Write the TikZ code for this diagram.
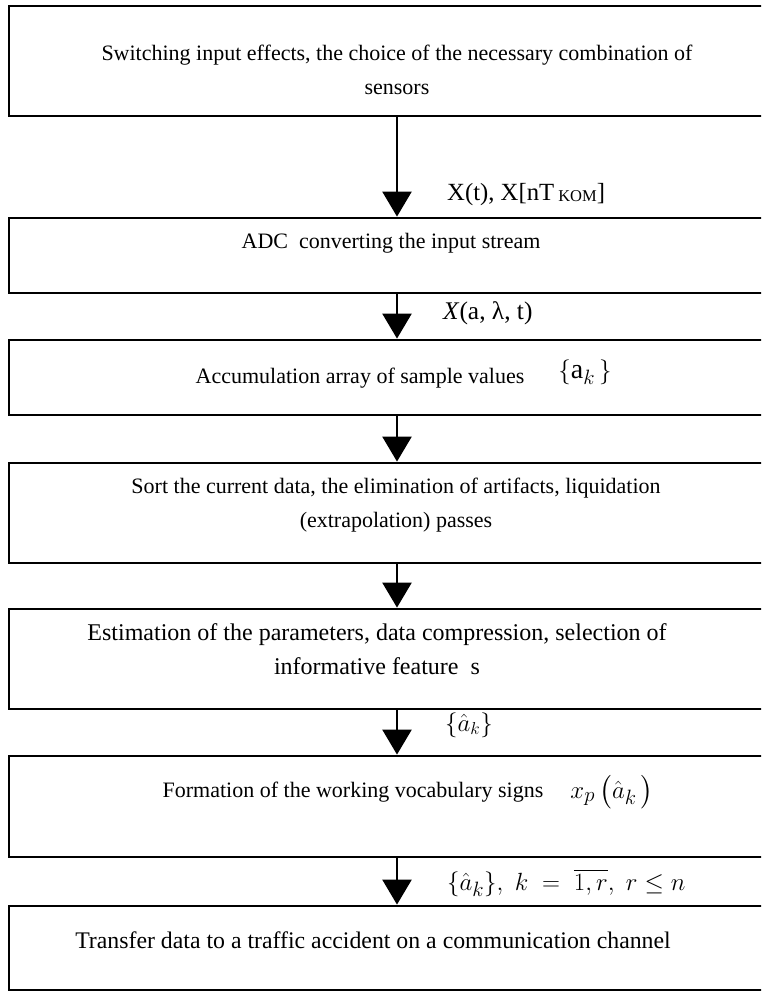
\documentclass[tikz,border=0pt]{standalone}
\usepackage{amsmath,amssymb}
\usepackage{fontspec}
\setmainfont{Liberation Serif}
\usetikzlibrary{arrows.meta}

\newcommand{\fsz}[1]{\fontsize{#1}{34}\selectfont}

\begin{document}
\begin{tikzpicture}[x=1pt,y=-1pt,font=\fsz{22},
  box/.style={draw, line width=2.8pt, minimum width=776pt, inner sep=0pt},
  flow/.style={line width=2.5pt, -{Triangle[width=29pt,length=25pt]}},
  txt/.style={align=center, inner sep=0pt},
  frm/.style={inner sep=0pt, font=\fsz{28}}]
\clip (0,0) rectangle (761,992);
% blocks of the scheme
\foreach \name/\top/\bot in {b1/6/116,b2/218/293,b3/340/415,b4/463/563,b5/609/709,b6/756/857,b7/906/990}
  \node[box, minimum height={(\bot-\top)*1pt}] (\name) at (397,{(\top+\bot)/2}) {};
\foreach \a/\b in {b1/b2,b2/b3,b3/b4,b4/b5,b5/b6,b6/b7}
  \draw[flow] (\a) -- (\b);
% texts inside the blocks
\node[txt] (t1) at (397,70) {Switching input effects, the choice of the necessary combination of\\sensors};
\node[txt] (t2) at (391,243) {ADC\ \ converting the input stream};
\node[txt] (t3) at (360,378) {Accumulation array of sample values};
\node[frm] (f3) at (585,372) {$\left\{\textnormal{a}_{k}\,\right\}$};
\node[txt] (t4) at (396,505) {Sort the current data, the elimination of artifacts, liquidation\\(extrapolation) passes};
\node[txt, font=\fsz{24}] (t5) at (377,649) {Estimation of the parameters, data compression, selection of\\informative feature\ \ s};
\node[txt] (t6) at (353,792) {Formation of the working vocabulary signs};
\node[frm] (f6) at (612,792) {$x_{p}\,\bigl(\hat{a}_{k}\,\bigr)$};
\node[txt, font=\fsz{23.8}] (t7) at (373,940) {Transfer data to a traffic accident on a communication channel};
% labels of the flows
\node[txt, anchor=west, font=\fsz{24.7}] (l1) at (447,195) {X(t), X[nT\raisebox{-1pt}{\fsz{16.5} KOM}]};
\node[txt, anchor=west, font=\fsz{25.4}] (l2) at (443,313) {\textit{X}(a, λ, t)};
\node[frm, anchor=west, font=\fsz{26}] (l5) at (445,725) {$\left\{\hat{a}_{k}\right\}$};
\node[frm, anchor=west, font=\fsz{29}] (l6) at (447,883) {$\left\{\hat{a}_{k}\right\}\!,\ k\;=\;\overline{1,r},\ r\le n$};
\end{tikzpicture}
\end{document}
